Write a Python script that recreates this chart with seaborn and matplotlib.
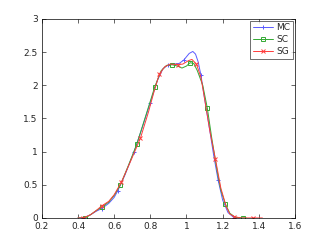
import numpy as np
import pandas as pd
import matplotlib
matplotlib.use('Agg')
import matplotlib.pyplot as plt
from matplotlib.lines import Line2D
import seaborn as sns

# curve points (markers sit on some of them)
mc_x = [0.40, 0.43, 0.47, 0.50, 0.53, 0.57, 0.60, 0.62, 0.66, 0.71, 0.75, 0.80, 0.84, 0.87,
        0.895, 0.93, 0.96, 0.985, 1.00, 1.015, 1.035, 1.05, 1.065, 1.08, 1.10, 1.13, 1.15,
        1.175, 1.20, 1.23, 1.265, 1.30]
mc_y = [0.0, 0.0, 0.05, 0.10, 0.14, 0.22, 0.31, 0.41, 0.65, 1.00, 1.32, 1.74, 2.08, 2.25,
        2.30, 2.32, 2.33, 2.38, 2.43, 2.48, 2.51, 2.47, 2.35, 2.15, 1.80, 1.30, 0.95,
        0.57, 0.27, 0.08, 0.0, 0.0]
mc_marks = [0.43, 0.53, 0.62, 0.71, 0.80, 0.895, 0.985, 1.08, 1.175, 1.265]

sc_x = [0.40, 0.44, 0.47, 0.50, 0.535, 0.57, 0.60, 0.635, 0.68, 0.725, 0.77, 0.825, 0.86,
        0.89, 0.92, 0.95, 0.975, 1.00, 1.02, 1.04, 1.06, 1.09, 1.115, 1.14, 1.17, 1.19,
        1.215, 1.24, 1.27, 1.31, 1.33]
sc_y = [0.0, 0.0, 0.05, 0.11, 0.17, 0.24, 0.34, 0.50, 0.80, 1.11, 1.50, 1.98, 2.22,
        2.30, 2.31, 2.29, 2.26, 2.29, 2.34, 2.33, 2.22, 2.00, 1.66, 1.20, 0.70, 0.42,
        0.21, 0.07, 0.01, 0.0, 0.0]
sc_marks = [0.44, 0.535, 0.635, 0.725, 0.825, 0.92, 1.02, 1.115, 1.215, 1.31]

sg_x = [0.40, 0.43, 0.47, 0.50, 0.53, 0.57, 0.60, 0.64, 0.69, 0.745, 0.79, 0.82, 0.85,
        0.88, 0.91, 0.955, 0.98, 1.01, 1.03, 1.055, 1.08, 1.10, 1.13, 1.16, 1.19, 1.22,
        1.24, 1.265, 1.30, 1.37, 1.42]
sg_y = [0.0, 0.0, 0.05, 0.11, 0.18, 0.25, 0.35, 0.54, 0.85, 1.20, 1.60, 1.90, 2.17,
        2.28, 2.32, 2.31, 2.32, 2.37, 2.39, 2.32, 2.12, 1.80, 1.30, 0.89, 0.45, 0.17,
        0.06, 0.02, 0.0, 0.0, 0.0]
sg_marks = [0.43, 0.53, 0.64, 0.745, 0.85, 0.955, 1.055, 1.16, 1.265, 1.37]

series = [
    ('MC', mc_x, mc_y, mc_marks, '#5a5aff', '+', 3.4),
    ('SC', sc_x, sc_y, sc_marks, '#33aa33', 's', 2.6),
    ('SG', sg_x, sg_y, sg_marks, '#ff3b3b', 'x', 2.6),
]

sns.set_style('ticks')
plt.rcParams['font.family'] = ['DejaVu Sans']
plt.rcParams['xtick.direction'] = 'in'
plt.rcParams['ytick.direction'] = 'in'

fig = plt.figure(figsize=(3.27, 2.46), dpi=100)
ax = fig.add_axes([0.128, 0.114, 0.774, 0.809])

handles = []
for name, xs, ys, marks, color, mk, ms in series:
    df = pd.DataFrame({'x': xs, 'y': ys})
    idx = [int(np.argmin(np.abs(np.array(xs) - m))) for m in marks]
    sns.lineplot(data=df, x='x', y='y', ax=ax, sort=False, color=color, lw=0.7,
                 marker=mk, markevery=idx, markersize=ms, markerfacecolor='none',
                 markeredgecolor=color, markeredgewidth=0.7)
    handles.append(Line2D([], [], color=color, lw=0.7, marker=mk, markersize=ms,
                          markerfacecolor='none', markeredgecolor=color,
                          markeredgewidth=0.7, label=name))

ax.set_xlim(0.2, 1.6)
ax.set_ylim(0, 3)
ax.set_xticks(np.arange(0.2, 1.61, 0.2))
ax.set_xticklabels(['0.2', '0.4', '0.6', '0.8', '1', '1.2', '1.4', '1.6'])
ax.set_yticks(np.arange(0, 3.01, 0.5))
ax.set_yticklabels(['0', '0.5', '1', '1.5', '2', '2.5', '3'])
ax.set_xlabel('')
ax.set_ylabel('')
ax.tick_params(labelsize=6.5, length=3, width=0.5, top=True, right=True)
ax.tick_params(axis='x', pad=3)
ax.tick_params(axis='y', pad=3)
for s in ax.spines.values():
    s.set_linewidth(0.5)
    s.set_color('black')

leg = ax.legend(handles=handles, loc='upper right', fontsize=6.5, frameon=True,
                fancybox=False, handlelength=2.2, borderpad=0.3, labelspacing=0.3,
                handletextpad=0.4, borderaxespad=0.2)
leg.get_frame().set_edgecolor('black')
leg.get_frame().set_linewidth(0.5)

fig.savefig('out.png', dpi=100)
